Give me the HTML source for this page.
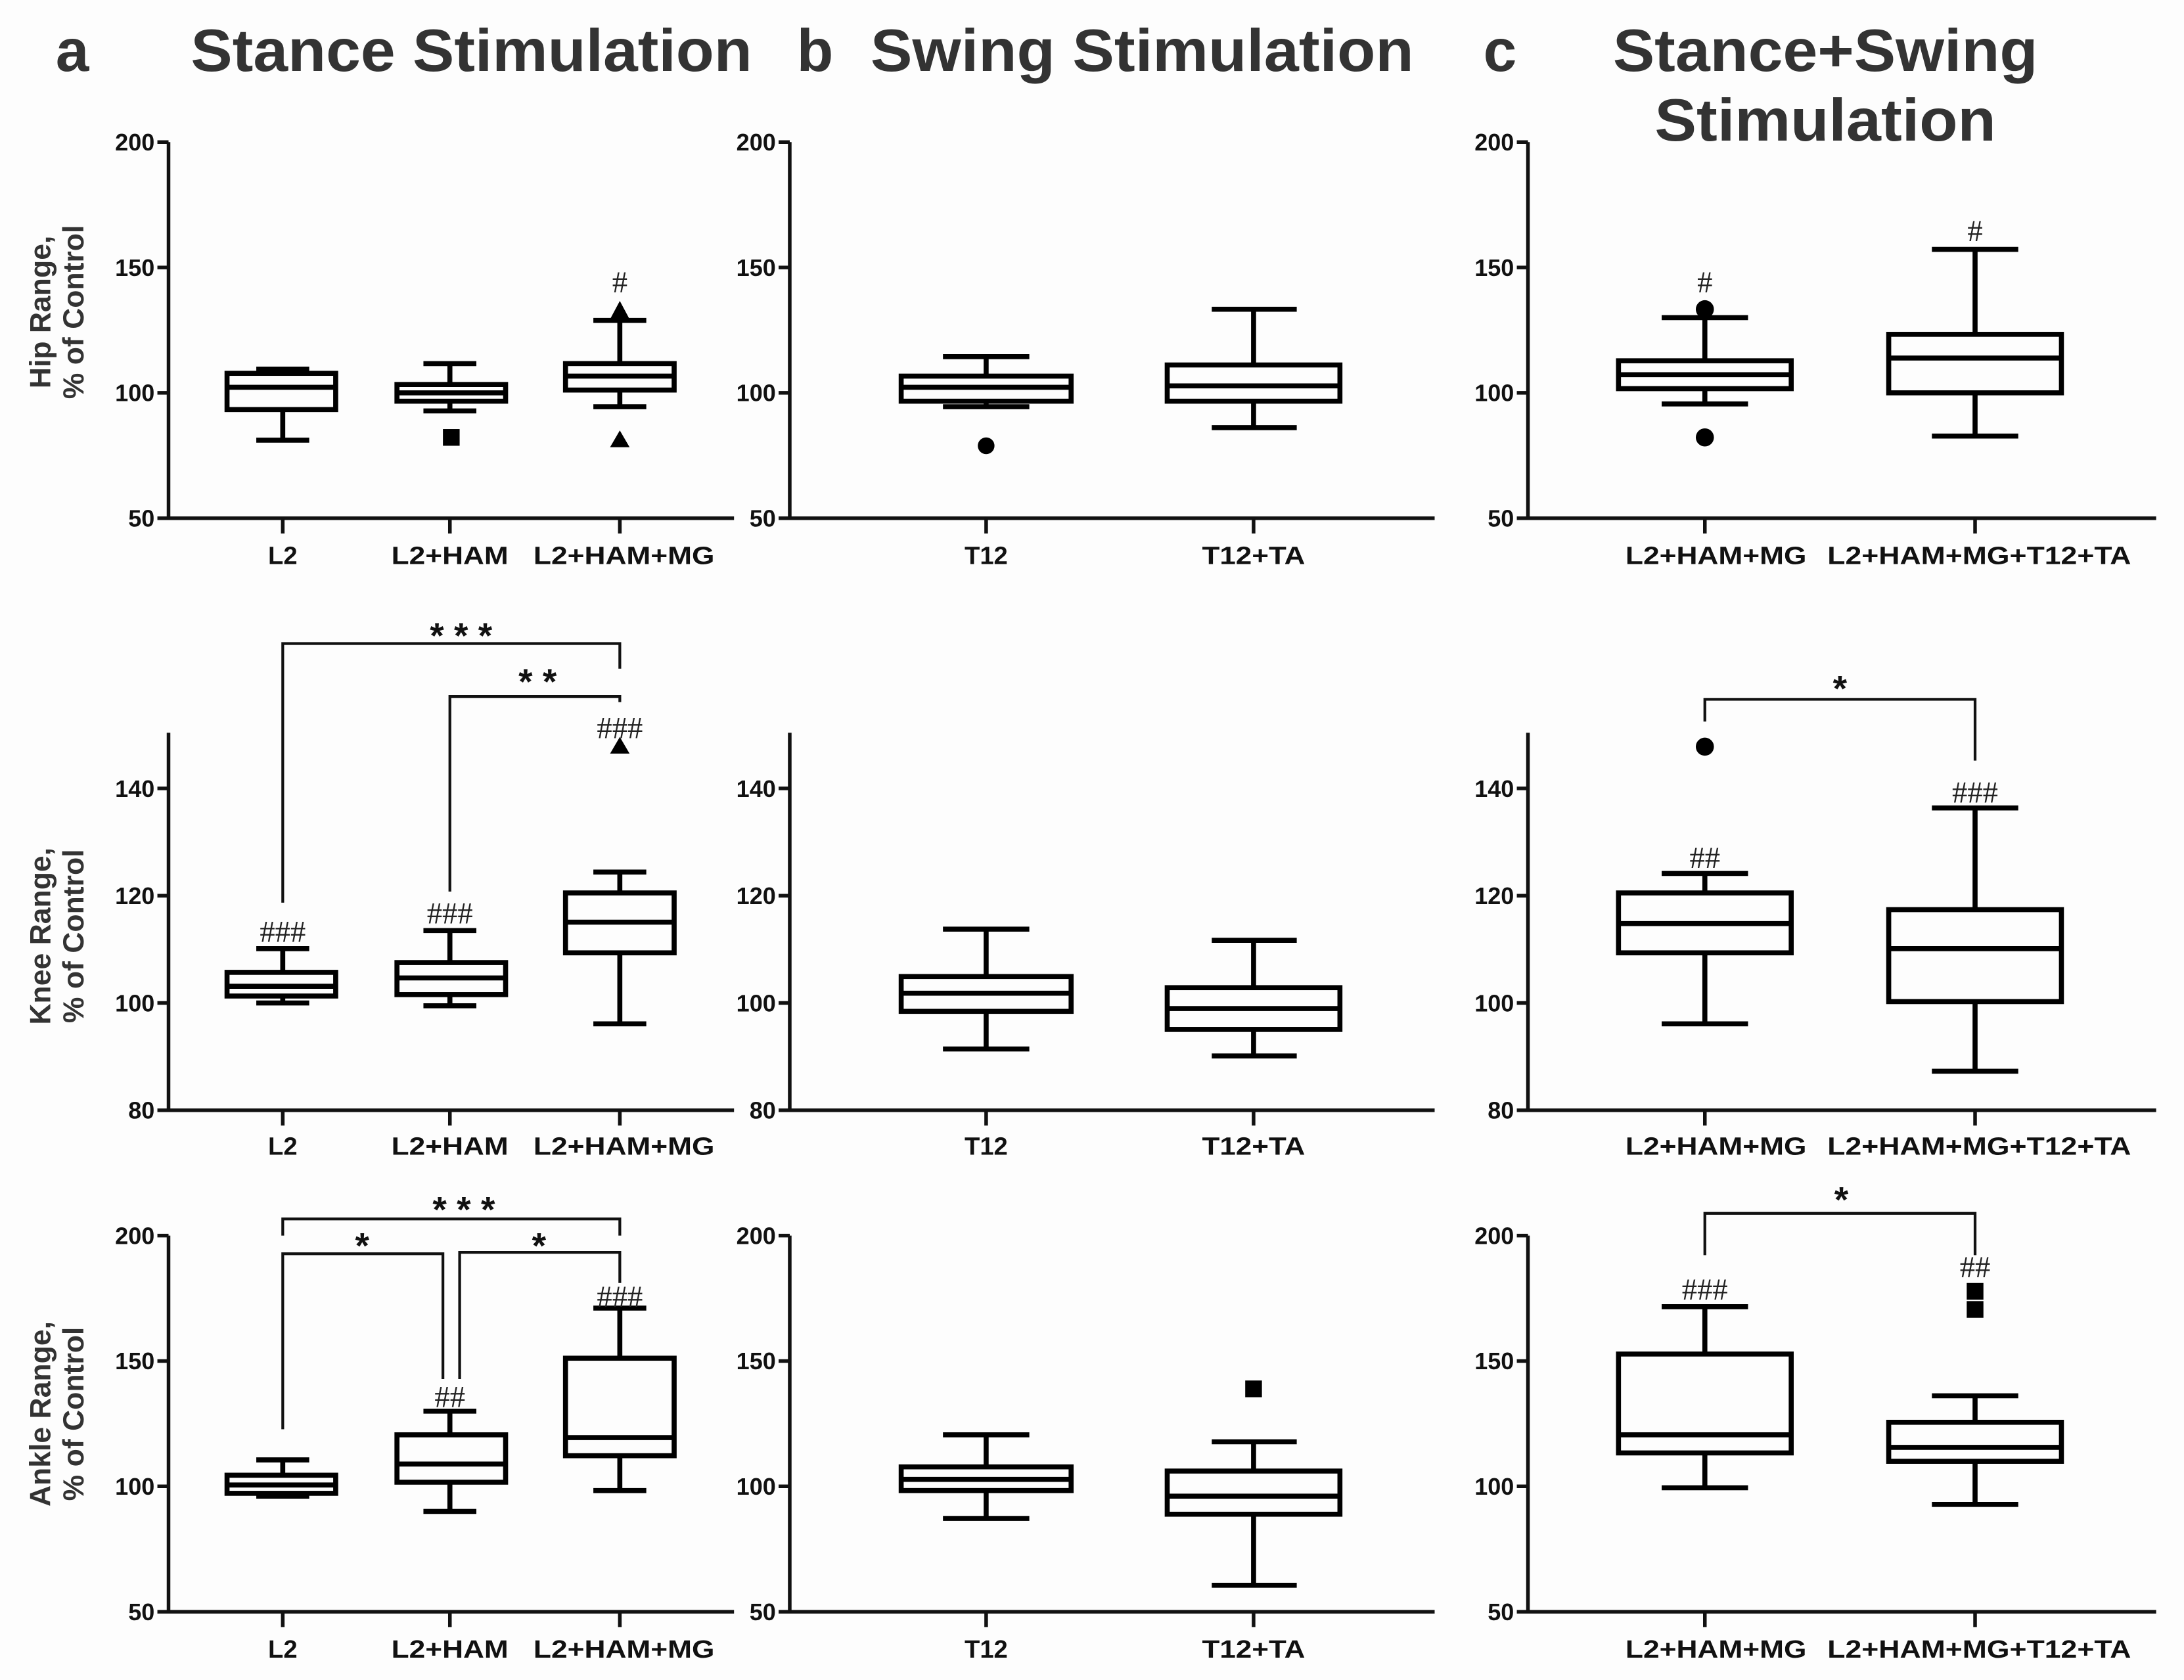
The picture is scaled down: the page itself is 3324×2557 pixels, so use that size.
<!DOCTYPE html>
<html><head><meta charset="utf-8"><style>
html,body{margin:0;padding:0;background:#fdfdfd}
svg{display:block}
.t{font-family:"Liberation Sans Narrow","Liberation Sans",sans-serif;font-weight:bold;fill:#111}
.ti{font-family:"Liberation Sans",sans-serif;font-weight:bold;fill:#333}
.h{font-family:"Liberation Serif",serif;fill:#222;font-size:22px;text-anchor:middle}
.s{font-family:"Liberation Sans",sans-serif;font-weight:bold;fill:#111;font-size:26px;text-anchor:middle}
.ax{stroke:#111;stroke-width:2.6;fill:none}
.bx{stroke:#000;stroke-width:3.6;fill:none}
.br{stroke:#111;stroke-width:2;fill:none}
</style></head><body>
<svg width="3324" height="2557" viewBox="0 0 1568 1206" preserveAspectRatio="none" xmlns="http://www.w3.org/2000/svg">
<rect width="1568" height="1206" fill="#fdfdfd"/>
<!-- titles -->
<text class="ti" x="40" y="51" font-size="43">a</text>
<text class="ti" x="137" y="51" font-size="43" textLength="403" lengthAdjust="spacingAndGlyphs">Stance Stimulation</text>
<text class="ti" x="572" y="51" font-size="43">b</text>
<text class="ti" x="625" y="51" font-size="43" textLength="390" lengthAdjust="spacingAndGlyphs">Swing Stimulation</text>
<text class="ti" x="1065" y="51" font-size="43">c</text>
<text class="ti" x="1158" y="51" font-size="43" textLength="305" lengthAdjust="spacingAndGlyphs">Stance+Swing</text>
<text class="ti" x="1188" y="101" font-size="43" textLength="245" lengthAdjust="spacingAndGlyphs">Stimulation</text>

<!-- y labels -->
<text class="ti" font-size="21" text-anchor="middle" transform="translate(36,224) rotate(-90)">Hip Range,</text>
<text class="ti" font-size="21" text-anchor="middle" transform="translate(60,224) rotate(-90)">% of Control</text>
<text class="ti" font-size="21" text-anchor="middle" transform="translate(36,672) rotate(-90)">Knee Range,</text>
<text class="ti" font-size="21" text-anchor="middle" transform="translate(60,672) rotate(-90)">% of Control</text>
<text class="ti" font-size="21" text-anchor="middle" transform="translate(36,1015) rotate(-90)">Ankle Range,</text>
<text class="ti" font-size="21" text-anchor="middle" transform="translate(60,1015) rotate(-90)">% of Control</text>

<!-- ================= HIP ROW ================= -->
<g class="ax">
<path d="M121,102 V372 M113,372 H527 M113,102 H121 M113,192 H121 M113,282 H121 M203,372 V383 M323,372 V383 M445,372 V383"/>
<path d="M567,102 V372 M559,372 H1030 M559,102 H567 M559,192 H567 M559,282 H567 M708,372 V383 M900,372 V383"/>
<path d="M1097,102 V372 M1089,372 H1548 M1089,102 H1097 M1089,192 H1097 M1089,282 H1097 M1224,372 V383 M1418,372 V383"/>
</g>
<g class="t" font-size="17" text-anchor="end">
<text x="111" y="108">200</text><text x="111" y="198">150</text><text x="111" y="288">100</text><text x="111" y="378">50</text>
<text x="557" y="108">200</text><text x="557" y="198">150</text><text x="557" y="288">100</text><text x="557" y="378">50</text>
<text x="1087" y="108">200</text><text x="1087" y="198">150</text><text x="1087" y="288">100</text><text x="1087" y="378">50</text>
</g>
<g class="t" font-size="18" text-anchor="middle">
<text x="203" y="405">L2</text><text x="323" y="405" textLength="84" lengthAdjust="spacingAndGlyphs">L2+HAM</text><text x="448" y="405" textLength="130" lengthAdjust="spacingAndGlyphs">L2+HAM+MG</text>
<text x="708" y="405">T12</text><text x="900" y="405" textLength="74" lengthAdjust="spacingAndGlyphs">T12+TA</text>
<text x="1232" y="405" textLength="130" lengthAdjust="spacingAndGlyphs">L2+HAM+MG</text><text x="1421" y="405" textLength="218" lengthAdjust="spacingAndGlyphs">L2+HAM+MG+T12+TA</text>
</g>
<g class="bx">
<!-- a -->
<rect x="163" y="268" width="78" height="26"/><path d="M163,278 H241 M203,268 V265 M184,265 H222 M203,294 V316 M184,316 H222"/>
<rect x="285" y="276" width="78" height="12"/><path d="M285,282 H363 M323,276 V261 M304,261 H342 M323,288 V295 M304,295 H342"/>
<rect x="406" y="261" width="78" height="19"/><path d="M406,270 H484 M445,261 V230 M426,230 H464 M445,280 V292 M426,292 H464"/>
<!-- b -->
<rect x="647" y="270" width="122" height="18"/><path d="M647,278 H769 M708,270 V256 M677,256 H739 M708,288 V292 M677,292 H739"/>
<rect x="838" y="262" width="124" height="26"/><path d="M838,277 H962 M900,262 V222 M870,222 H931 M900,288 V307 M870,307 H931"/>
<!-- c -->
<rect x="1162" y="259" width="124" height="20"/><path d="M1162,269 H1286 M1224,259 V228 M1193,228 H1255 M1224,279 V290 M1193,290 H1255"/>
<rect x="1356" y="240" width="124" height="42"/><path d="M1356,257 H1480 M1418,240 V179 M1387,179 H1449 M1418,282 V313 M1387,313 H1449"/>
</g>
<rect x="318" y="308" width="12" height="12" fill="#000"/>
<path d="M445,216 L453,231 L437,231 Z M445,309 L452,321 L438,321 Z" fill="#000"/>
<circle cx="708" cy="320" r="6" fill="#000"/>
<circle cx="1224" cy="222" r="6.5" fill="#000"/><circle cx="1224" cy="314" r="6.5" fill="#000"/>
<text class="h" x="445" y="210">#</text>
<text class="h" x="1224" y="210">#</text>
<text class="h" x="1418" y="173">#</text>

<!-- ================= KNEE ROW ================= -->
<g class="ax">
<path d="M121,526 V797 M113,797 H527 M113,566 H121 M113,643 H121 M113,720 H121 M203,797 V808 M323,797 V808 M445,797 V808"/>
<path d="M567,526 V797 M559,797 H1030 M559,566 H567 M559,643 H567 M559,720 H567 M708,797 V808 M900,797 V808"/>
<path d="M1097,526 V797 M1089,797 H1548 M1089,566 H1097 M1089,643 H1097 M1089,720 H1097 M1224,797 V808 M1418,797 V808"/>
</g>
<g class="t" font-size="17" text-anchor="end">
<text x="111" y="572">140</text><text x="111" y="649">120</text><text x="111" y="726">100</text><text x="111" y="803">80</text>
<text x="557" y="572">140</text><text x="557" y="649">120</text><text x="557" y="726">100</text><text x="557" y="803">80</text>
<text x="1087" y="572">140</text><text x="1087" y="649">120</text><text x="1087" y="726">100</text><text x="1087" y="803">80</text>
</g>
<g class="t" font-size="18" text-anchor="middle">
<text x="203" y="829">L2</text><text x="323" y="829" textLength="84" lengthAdjust="spacingAndGlyphs">L2+HAM</text><text x="448" y="829" textLength="130" lengthAdjust="spacingAndGlyphs">L2+HAM+MG</text>
<text x="708" y="829">T12</text><text x="900" y="829" textLength="74" lengthAdjust="spacingAndGlyphs">T12+TA</text>
<text x="1232" y="829" textLength="130" lengthAdjust="spacingAndGlyphs">L2+HAM+MG</text><text x="1421" y="829" textLength="218" lengthAdjust="spacingAndGlyphs">L2+HAM+MG+T12+TA</text>
</g>
<g class="bx">
<rect x="163" y="698" width="78" height="17"/><path d="M163,708 H241 M203,698 V681 M184,681 H222 M203,715 V720 M184,720 H222"/>
<rect x="285" y="691" width="78" height="23"/><path d="M285,702 H363 M323,691 V668 M304,668 H342 M323,714 V722 M304,722 H342"/>
<rect x="406" y="641" width="78" height="43"/><path d="M406,662 H484 M445,641 V626 M426,626 H464 M445,684 V735 M426,735 H464"/>
<rect x="647" y="701" width="122" height="25"/><path d="M647,713 H769 M708,701 V667 M677,667 H739 M708,726 V753 M677,753 H739"/>
<rect x="838" y="709" width="124" height="30"/><path d="M838,724 H962 M900,709 V675 M870,675 H931 M900,739 V758 M870,758 H931"/>
<rect x="1162" y="641" width="124" height="43"/><path d="M1162,663 H1286 M1224,641 V627 M1193,627 H1255 M1224,684 V735 M1193,735 H1255"/>
<rect x="1356" y="653" width="124" height="66"/><path d="M1356,681 H1480 M1418,653 V580 M1387,580 H1449 M1418,719 V769 M1387,769 H1449"/>
</g>
<path d="M445,529 L452,541 L438,541 Z" fill="#000"/>
<circle cx="1224" cy="536" r="6.5" fill="#000"/>
<g class="br">
<path d="M203,648 V462 H445 V480"/>
<path d="M323,640 V500 H445 V504"/>
<path d="M1224,518 V502 H1418 V546"/>
</g>
<text class="s" x="331" y="465">* * *</text>
<text class="s" x="386" y="498">* *</text>
<text class="s" x="1321" y="503">*</text>
<text class="h" x="203" y="676">###</text>
<text class="h" x="323" y="663">###</text>
<text class="h" x="445" y="530">###</text>
<text class="h" x="1224" y="623">##</text>
<text class="h" x="1418" y="576">###</text>

<!-- ================= ANKLE ROW ================= -->
<g class="ax">
<path d="M121,887 V1157 M113,1157 H527 M113,887 H121 M113,977 H121 M113,1067 H121 M203,1157 V1168 M323,1157 V1168 M445,1157 V1168"/>
<path d="M567,887 V1157 M559,1157 H1030 M559,887 H567 M559,977 H567 M559,1067 H567 M708,1157 V1168 M900,1157 V1168"/>
<path d="M1097,887 V1157 M1089,1157 H1548 M1089,887 H1097 M1089,977 H1097 M1089,1067 H1097 M1224,1157 V1168 M1418,1157 V1168"/>
</g>
<g class="t" font-size="17" text-anchor="end">
<text x="111" y="893">200</text><text x="111" y="983">150</text><text x="111" y="1073">100</text><text x="111" y="1163">50</text>
<text x="557" y="893">200</text><text x="557" y="983">150</text><text x="557" y="1073">100</text><text x="557" y="1163">50</text>
<text x="1087" y="893">200</text><text x="1087" y="983">150</text><text x="1087" y="1073">100</text><text x="1087" y="1163">50</text>
</g>
<g class="t" font-size="18" text-anchor="middle">
<text x="203" y="1190">L2</text><text x="323" y="1190" textLength="84" lengthAdjust="spacingAndGlyphs">L2+HAM</text><text x="448" y="1190" textLength="130" lengthAdjust="spacingAndGlyphs">L2+HAM+MG</text>
<text x="708" y="1190">T12</text><text x="900" y="1190" textLength="74" lengthAdjust="spacingAndGlyphs">T12+TA</text>
<text x="1232" y="1190" textLength="130" lengthAdjust="spacingAndGlyphs">L2+HAM+MG</text><text x="1421" y="1190" textLength="218" lengthAdjust="spacingAndGlyphs">L2+HAM+MG+T12+TA</text>
</g>
<g class="bx">
<rect x="163" y="1059" width="78" height="13"/><path d="M163,1066 H241 M203,1059 V1048 M184,1048 H222 M203,1072 V1074 M184,1074 H222"/>
<rect x="285" y="1030" width="78" height="34"/><path d="M285,1051 H363 M323,1030 V1013 M304,1013 H342 M323,1064 V1085 M304,1085 H342"/>
<rect x="406" y="975" width="78" height="70"/><path d="M406,1032 H484 M445,975 V939 M426,939 H464 M445,1045 V1070 M426,1070 H464"/>
<rect x="647" y="1053" width="122" height="17"/><path d="M647,1062 H769 M708,1053 V1030 M677,1030 H739 M708,1070 V1090 M677,1090 H739"/>
<rect x="838" y="1056" width="124" height="31"/><path d="M838,1074 H962 M900,1056 V1035 M870,1035 H931 M900,1087 V1138 M870,1138 H931"/>
<rect x="1162" y="972" width="124" height="71"/><path d="M1162,1030 H1286 M1224,972 V938 M1193,938 H1255 M1224,1043 V1068 M1193,1068 H1255"/>
<rect x="1356" y="1021" width="124" height="28"/><path d="M1356,1039 H1480 M1418,1021 V1002 M1387,1002 H1449 M1418,1049 V1080 M1387,1080 H1449"/>
</g>
<rect x="894" y="991" width="12" height="12" fill="#000"/>
<rect x="1412" y="921" width="12" height="12" fill="#000"/>
<rect x="1412" y="934" width="12" height="12" fill="#000"/>
<g class="br">
<path d="M203,887 V875 H445 V887"/>
<path d="M203,1026 V900 H318 V990"/>
<path d="M330,990 V899 H445 V921"/>
<path d="M1224,901 V871 H1418 V901"/>
</g>
<text class="s" x="333" y="877">* * *</text>
<text class="s" x="260" y="903">*</text>
<text class="s" x="387" y="903">*</text>
<text class="s" x="1322" y="870">*</text>
<text class="h" x="323" y="1010">##</text>
<text class="h" x="445" y="938">###</text>
<text class="h" x="1224" y="933">###</text>
<text class="h" x="1418" y="917">##</text>
</svg>
</body></html>
